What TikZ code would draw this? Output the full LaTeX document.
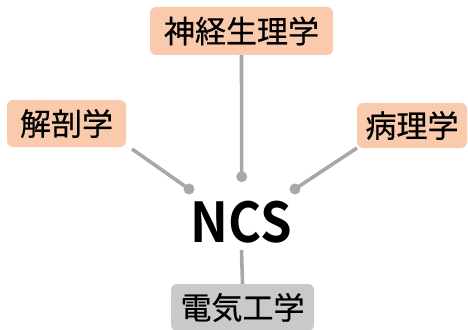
\documentclass[tikz,border=0pt]{standalone}
\usepackage{fontspec}
\setmainfont{Noto Sans CJK JP}[FakeBold=0.5]
\newfontfamily\ncsfont[BoldFont={* Bold}]{Noto Sans CJK JP}
\definecolor{peach}{HTML}{F9CBAC}
\definecolor{boxgray}{HTML}{C9C9C9}
\definecolor{linegray}{HTML}{A8A8A8}
\begin{document}
\begin{tikzpicture}[x=1pt,y=-1pt,
  topic/.style={fill=peach, rounded corners=6pt, inner sep=0pt, font=\fontsize{31}{31}\selectfont, text=black},
  graytopic/.style={topic, fill=boxgray},
  link/.style={draw=linegray, line width=3.6pt},
  knob/.style={circle, fill=linegray, inner sep=0pt, minimum size=11pt}]
\useasboundingbox (0,0) rectangle (468,329);
\begin{scope}
\clip (0,0) rectangle (468,329);
\node[topic, minimum width=183pt, minimum height=48pt] (neuro) at (241.5,31) {神経生理学};
\node[topic, minimum width=119pt, minimum height=47pt] (anat) at (66.5,123.5) {解剖学};
\node[topic, minimum width=110pt, minimum height=45pt] (path) at (412,125.5) {病理学};
\node[graytopic, minimum width=143pt, minimum height=47pt] (elec) at (242.5,307.5) {電気工学};
\node[font=\ncsfont\bfseries\fontsize{55}{55}\selectfont, inner sep=0pt, xscale=0.92] (ncs) at (241.5,222) {NCS};
\node[knob] (k1) at (241.7,176.7) {};
\node[knob] (k2) at (189,189) {};
\node[knob] (k3) at (295,189) {};
\coordinate (a1) at (132,149);
\coordinate (a2) at (357,148);
\coordinate (b1) at (241.5,250);
\draw[link] (neuro.south) -- (k1.center);
\draw[link] (a1) -- (k2.center);
\draw[link] (a2) -- (k3.center);
\draw[link] (b1) -- (elec.north);
\end{scope}
\end{tikzpicture}
\end{document}
